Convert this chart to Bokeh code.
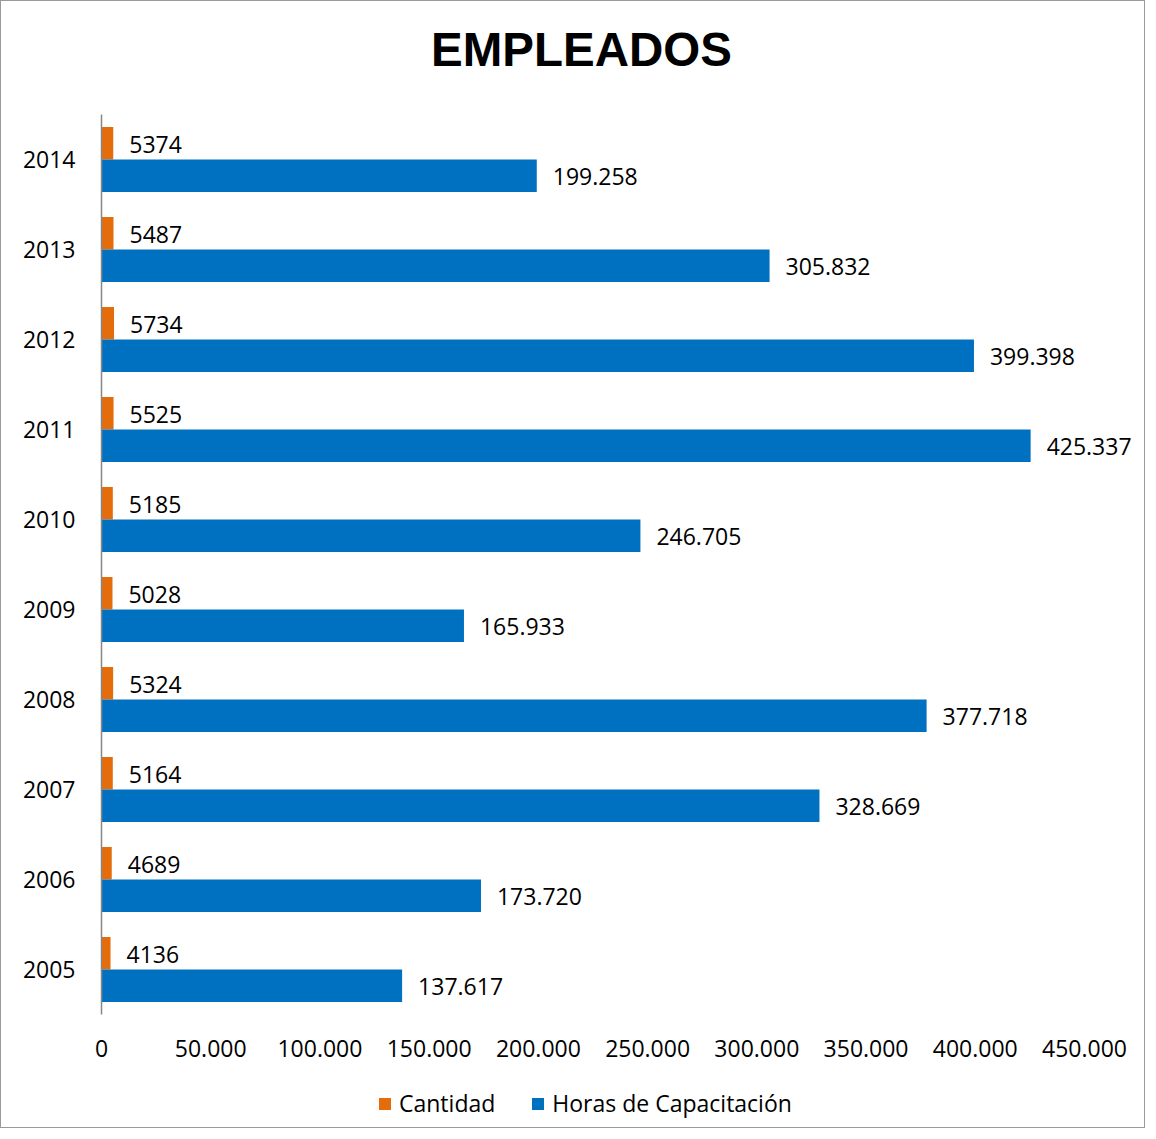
from bokeh.plotting import figure
from bokeh.models import (ColumnDataSource, FixedTicker, CustomJSTickFormatter,
                          LabelSet, Label, Legend, LegendItem, Range1d)
from bokeh.transform import dodge
from bokeh.core.properties import value
from bokeh.embed import file_html
from bokeh.resources import INLINE

# ---- data ----
years = ["2005", "2006", "2007", "2008", "2009", "2010", "2011", "2012", "2013", "2014"]
cantidad = [4136, 4689, 5164, 5324, 5028, 5185, 5525, 5734, 5487, 5374]
horas = [137617, 173720, 328669, 377718, 165933, 246705, 425337, 399398, 305832, 199258]
x_ticks = [0, 50000, 100000, 150000, 200000, 250000, 300000, 350000, 400000, 450000]
series_names = ["Cantidad", "Horas de Capacitación"]
title_text = "EMPLEADOS"

ORANGE = "#E46C0A"
BLUE = "#0070C0"
FONT = "Open Sans"
FS = "23px"

ypos = list(range(len(years)))
source = ColumnDataSource(dict(
    ypos=ypos,
    cantidad=cantidad,
    horas=horas,
    cantidad_text=[str(v) for v in cantidad],
    horas_text=[f"{v:,}".replace(",", ".") for v in horas],
))

# ---- layout constants (pixels) ----
W, H = 1145, 1128
ZERO_X = 100          # pixel position of x = 0
PX_PER_UNIT = 983 / 450000.0
BANDS_TOP = 113       # pixel position of top of category bands
BAND_PX = 90.0

x_start = -ZERO_X / PX_PER_UNIT
x_end = (W - ZERO_X) / PX_PER_UNIT
top_val = len(years) - 0.5
y_end = top_val + BANDS_TOP / BAND_PX
y_start = top_val - (H - BANDS_TOP) / BAND_PX

p = figure(width=W, height=H,
           y_range=Range1d(y_start, y_end),
           x_range=Range1d(x_start, x_end),
           output_backend="svg", toolbar_location=None,
           min_border=0, min_border_left=0, min_border_right=0,
           min_border_top=0, min_border_bottom=0)
p.styles = {"border": "1.5px solid #9a9a9a"}

p.outline_line_color = None
p.xgrid.visible = False
p.ygrid.visible = False

# title as a text annotation placed in the top area
title = Label(x=580, y=H - 48, x_units="screen", y_units="screen", text=title_text,
              text_font="Liberation Sans", text_font_style="bold", text_font_size="47.5px",
              text_align="center", text_baseline="alphabetic", text_color="#000000")
p.add_layout(title)

r1 = p.hbar(y=dodge("ypos", 0.18), right="cantidad", left=0, height=0.36,
            source=source, fill_color=ORANGE, line_color=None)
r2 = p.hbar(y=dodge("ypos", -0.18), right="horas", left=0, height=0.36,
            source=source, fill_color=BLUE, line_color=None)

l1 = LabelSet(x="cantidad", y=dodge("ypos", 0.18), text="cantidad_text",
              source=source, x_offset=16, y_offset=-1, text_baseline="middle",
              text_font=value(FONT), text_font_size=FS, text_color="#000000")
l2 = LabelSet(x="horas", y=dodge("ypos", -0.18), text="horas_text",
              source=source, x_offset=16, y_offset=-1, text_baseline="middle",
              text_font=value(FONT), text_font_size=FS, text_color="#000000")
p.add_layout(l1)
p.add_layout(l2)

# x axis (fixed at the bottom of the category bands)
xa = p.xaxis[0]
xa.fixed_location = -0.5
xa.ticker = FixedTicker(ticks=x_ticks)
xa.formatter = CustomJSTickFormatter(code="""
    return Math.round(tick).toString().replace(/\\B(?=(\\d{3})+(?!\\d))/g, ".");
""")
xa.axis_line_color = None
xa.major_tick_line_color = None
xa.minor_tick_line_color = None
xa.major_tick_out = 0
xa.major_tick_in = 0
xa.major_label_standoff = 25
xa.major_label_text_font = FONT
xa.major_label_text_font_size = FS
xa.major_label_text_color = "#000000"

# y axis (fixed at x = 0)
ya = p.yaxis[0]
ya.fixed_location = 0
ya.ticker = FixedTicker(ticks=ypos)
ya.major_label_overrides = {i: y for i, y in zip(ypos, years)}
ya.bounds = (-0.5, top_val)
ya.axis_line_color = "#868686"
ya.axis_line_width = 1.5
ya.major_tick_line_color = None
ya.minor_tick_line_color = None
ya.major_tick_out = 0
ya.major_tick_in = 0
ya.major_label_standoff = 26
ya.major_label_text_font = FONT
ya.major_label_text_font_size = FS
ya.major_label_text_color = "#000000"

legend = Legend(items=[LegendItem(label=series_names[0], renderers=[r1]),
                       LegendItem(label=series_names[1], renderers=[r2])],
                orientation="horizontal", location=(376, 10),
                glyph_width=15, glyph_height=15, label_standoff=7, spacing=35,
                label_text_font=FONT, label_text_font_size=FS, label_text_color="#000000",
                border_line_color=None, background_fill_alpha=0,
                margin=0, padding=0)
p.add_layout(legend, "center")

open("out.html", "w").write(file_html(p, INLINE))
